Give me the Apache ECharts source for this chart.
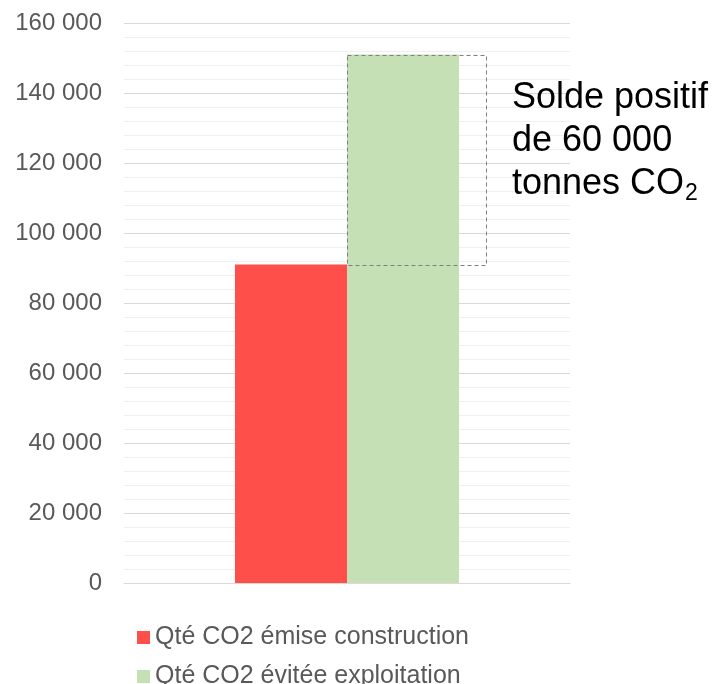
<!DOCTYPE html>
<html>
<head>
<meta charset="utf-8">
<script src="https://cdn.jsdelivr.net/npm/echarts@6/dist/echarts.min.js"></script>
<style>
    html, body { margin: 0; padding: 0; background: #fff; }
    #chart { width: 718px; height: 684px; }
</style>
</head>
<body>
<div id="chart"></div>
<script>
var categories = ['']
var seriesNames = ['Qté CO2 émise construction', 'Qté CO2 évitée exploitation']
var emise = [91000]
var evitee = [151000]
var yTicks = [0, 20000, 40000, 60000, 80000, 100000, 120000, 140000, 160000]
var note = ['Solde positif', 'de 60 000', 'tonnes CO']

var font = 'Liberation Sans, Arial, sans-serif'

var legendText = {
    color: '#595959',
    fontFamily: font,
    fontSize: 25
}

var option = {
    animation: false,
    backgroundColor: '#fff',
    grid: {
        left: 124,
        right: 148,
        top: 23,
        bottom: 101
    },
    title: {
        text: note[0] + '\n' + note[1] + '\n{t|' + note[2] + '}{s|2}',
        left: 507,
        top: 72,
        textStyle: {
            color: '#000',
            fontFamily: font,
            fontSize: 36,
            fontWeight: 'normal',
            lineHeight: 43,
            rich: {
                t: { fontSize: 36, color: '#000', fontFamily: font, lineHeight: 43 },
                s: { fontSize: 23, color: '#000', fontFamily: font, lineHeight: 43, padding: [19, 0, 0, 1] }
            }
        }
    },
    legend: [{
        left: 132,
        top: 620,
        itemWidth: 13,
        itemHeight: 13,
        icon: 'rect',
        data: [seriesNames[0]],
        textStyle: legendText
    }, {
        left: 132,
        top: 659,
        itemWidth: 13,
        itemHeight: 13,
        icon: 'rect',
        data: [seriesNames[1]],
        textStyle: legendText
    }],
    xAxis: {
        type: 'category',
        data: categories,
        axisTick: { show: false },
        axisLabel: { show: false },
        axisLine: { lineStyle: { color: '#d9d9d9' } }
    },
    yAxis: {
        type: 'value',
        min: yTicks[0],
        max: yTicks[yTicks.length - 1],
        interval: yTicks[1] - yTicks[0],
        axisLine: { show: false },
        axisTick: { show: false },
        axisLabel: {
            margin: 22,
            color: '#595959',
            fontFamily: font,
            fontSize: 24,
            formatter: function (v) {
                return String(v).replace(/\B(?=(\d{3})+(?!\d))/g, ' ')
            }
        },
        splitLine: { lineStyle: { color: '#d9d9d9', width: 1 } },
        minorTick: { show: false, splitNumber: 5 },
        minorSplitLine: { show: true, lineStyle: { color: '#efefef', width: 1 } }
    },
    series: [{
        name: seriesNames[0],
        type: 'bar',
        data: emise,
        barWidth: 112,
        barGap: '0%',
        itemStyle: { color: '#ff4f4b' }
    }, {
        name: seriesNames[1],
        type: 'bar',
        data: evitee,
        barWidth: 112,
        barGap: '0%',
        itemStyle: { color: '#c5e0b4' }
    }]
};

var chart = echarts.init(document.getElementById('chart'));
chart.setOption(option);

// dashed box showing the difference between the two bars
var center = chart.convertToPixel({ xAxisIndex: 0 }, categories[0])
var yTop = chart.convertToPixel({ yAxisIndex: 0 }, evitee[0])
var yBottom = chart.convertToPixel({ yAxisIndex: 0 }, emise[0])
chart.setOption({
    graphic: [{
        type: 'rect',
        z: 100,
        shape: { x: center + 0.5, y: Math.round(yTop) + 0.5, width: 139, height: Math.round(yBottom - yTop) },
        style: { fill: 'none', stroke: '#7f7f7f', lineWidth: 1, lineDash: [4, 3] }
    }]
});
</script>
</body>
</html>
